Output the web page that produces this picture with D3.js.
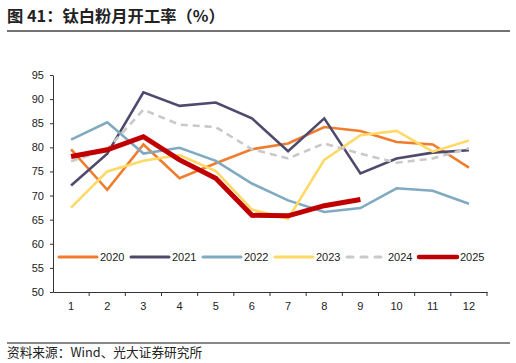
<!DOCTYPE html>
<html>
<head>
<meta charset="utf-8">
<script src="https://cdn.jsdelivr.net/npm/d3@7"></script>
<style>
  body { margin: 0; background: #fff; }
  text { font-family: "Liberation Sans", Arial, "Noto Sans CJK SC", sans-serif; }
</style>
</head>
<body>
<div id="chart"></div>
<script>
// months and tick labels
var months = ["1","2","3","4","5","6","7","8","9","10","11","12"];
var yTicks = [50, 55, 60, 65, 70, 75, 80, 85, 90, 95];
var years = ["2020","2021","2022","2023","2024","2025"];

// monthly rates (%)
var v2020 = [79.6, 71.2, 80.6, 73.6, 76.7, 79.6, 80.8, 84.2, 83.4, 81.1, 80.6, 75.8];
var v2021 = [72.1, 78.7, 91.4, 88.6, 89.3, 86.0, 79.2, 86.0, 74.6, 77.7, 78.9, 79.4];
var v2022 = [81.6, 85.2, 78.7, 79.9, 77.2, 72.5, 69.0, 66.6, 67.4, 71.5, 71.0, 68.3];
var v2023 = [67.5, 75.0, 77.2, 78.4, 75.1, 67.1, 65.2, 77.4, 82.5, 83.4, 79.1, 81.4];
var v2024 = [77.1, 79.6, 87.8, 84.7, 84.2, 79.6, 77.7, 80.8, 78.7, 76.8, 77.7, 79.8];
var v2025 = [78.1, 79.5, 82.2, 77.4, 73.6, 65.9, 65.8, 67.9, 69.2];

var series = [
  {name: "2020", values: v2020, color: "#F07D2E", width: 2.6, dash: null},
  {name: "2021", values: v2021, color: "#4F4A6D", width: 2.6, dash: null},
  {name: "2022", values: v2022, color: "#7FAAC0", width: 2.6, dash: null},
  {name: "2023", values: v2023, color: "#FFD965", width: 2.6, dash: null},
  {name: "2024", values: v2024, color: "#C9C9C9", width: 2.6, dash: "7,5"},
  {name: "2025", values: v2025, color: "#C00000", width: 5, dash: null}
];

var W = 516, H = 363;
var margin = {top: 75, left: 53, right: 29, bottom: 71};
var width = W - margin.left - margin.right,
    height = H - margin.top - margin.bottom;

var svg = d3.select("#chart").append("svg")
    .attr("width", W)
    .attr("height", H);

// title
svg.append("text")
    .attr("x", 7).attr("y", 22)
    .style("font-family", "'Noto Sans CJK SC', sans-serif")
    .style("font-size", "16.3px")
    .style("font-weight", "bold")
    .style("fill", "#222")
    .text("图 41：钛白粉月开工率（%）");
svg.append("line")
    .attr("x1", 7).attr("x2", 510).attr("y1", 31).attr("y2", 31)
    .style("stroke", "#444").style("stroke-width", 1.3);

// source
svg.append("line")
    .attr("x1", 7).attr("x2", 510).attr("y1", 343).attr("y2", 343)
    .style("stroke", "#111").style("stroke-width", 1);
svg.append("text")
    .attr("x", 7).attr("y", 357)
    .style("font-family", "'Noto Sans CJK SC', sans-serif")
    .style("font-size", "12.7px")
    .style("fill", "#222")
    .text("资料来源：Wind、光大证券研究所");

var g = svg.append("g")
    .attr("transform", "translate(" + margin.left + "," + margin.top + ")");

var x = d3.scaleBand().domain(months).range([0, width]);
var y = d3.scaleLinear().domain([50, 95]).range([height, 0]);

// X axis
var xAxis = g.append("g")
    .attr("transform", "translate(0," + height + ")")
    .call(d3.axisBottom(x).tickSize(0).tickPadding(10));
xAxis.select(".domain").style("stroke", "#333");
xAxis.selectAll("text").style("font-size", "11px").style("fill", "#222");
// tick marks at band edges
xAxis.selectAll(".edge")
  .data(d3.range(1, months.length + 1))
  .enter().append("line")
    .attr("x1", function(i) { return i * x.step(); })
    .attr("x2", function(i) { return i * x.step(); })
    .attr("y1", 0).attr("y2", 4)
    .style("stroke", "#333");

// Y axis
var yAxis = g.append("g")
    .call(d3.axisLeft(y).tickValues(yTicks).tickSize(3).tickPadding(6).tickSizeOuter(0));
yAxis.select(".domain").style("stroke", "#333");
yAxis.selectAll("line").style("stroke", "#333");
yAxis.selectAll("text").style("font-size", "11px").style("fill", "#222");

// lines
var line = d3.line()
    .x(function(d, i) { return x(months[i]) + x.bandwidth() / 2; })
    .y(function(d) { return y(d); });

g.selectAll(".series")
  .data(series)
  .enter().append("path")
    .attr("d", function(s) { return line(s.values); })
    .style("fill", "none")
    .style("stroke", function(s) { return s.color; })
    .style("stroke-width", function(s) { return s.width; })
    .style("stroke-dasharray", function(s) { return s.dash; })
    .style("stroke-linejoin", "miter");

// legend
var legendX = [59, 131, 203, 275, 347, 419];
var leg = svg.append("g").attr("transform", "translate(0,257)");
var items = leg.selectAll(".item")
  .data(series)
  .enter().append("g")
    .attr("transform", function(s, i) { return "translate(" + legendX[i] + ",0)"; });
items.append("line")
    .attr("x1", 0).attr("x2", 38).attr("y1", 0).attr("y2", 0)
    .style("stroke", function(s) { return s.color; })
    .style("stroke-width", function(s) { return s.name === "2025" ? 4.5 : 3; })
    .style("stroke-linecap", "round")
    .style("stroke-dasharray", function(s) { return s.dash ? "6,8" : null; });
items.append("text")
    .attr("x", 41).attr("y", 4)
    .style("font-size", "11px")
    .style("fill", "#222")
    .text(function(s) { return s.name; });
</script>
</body>
</html>
